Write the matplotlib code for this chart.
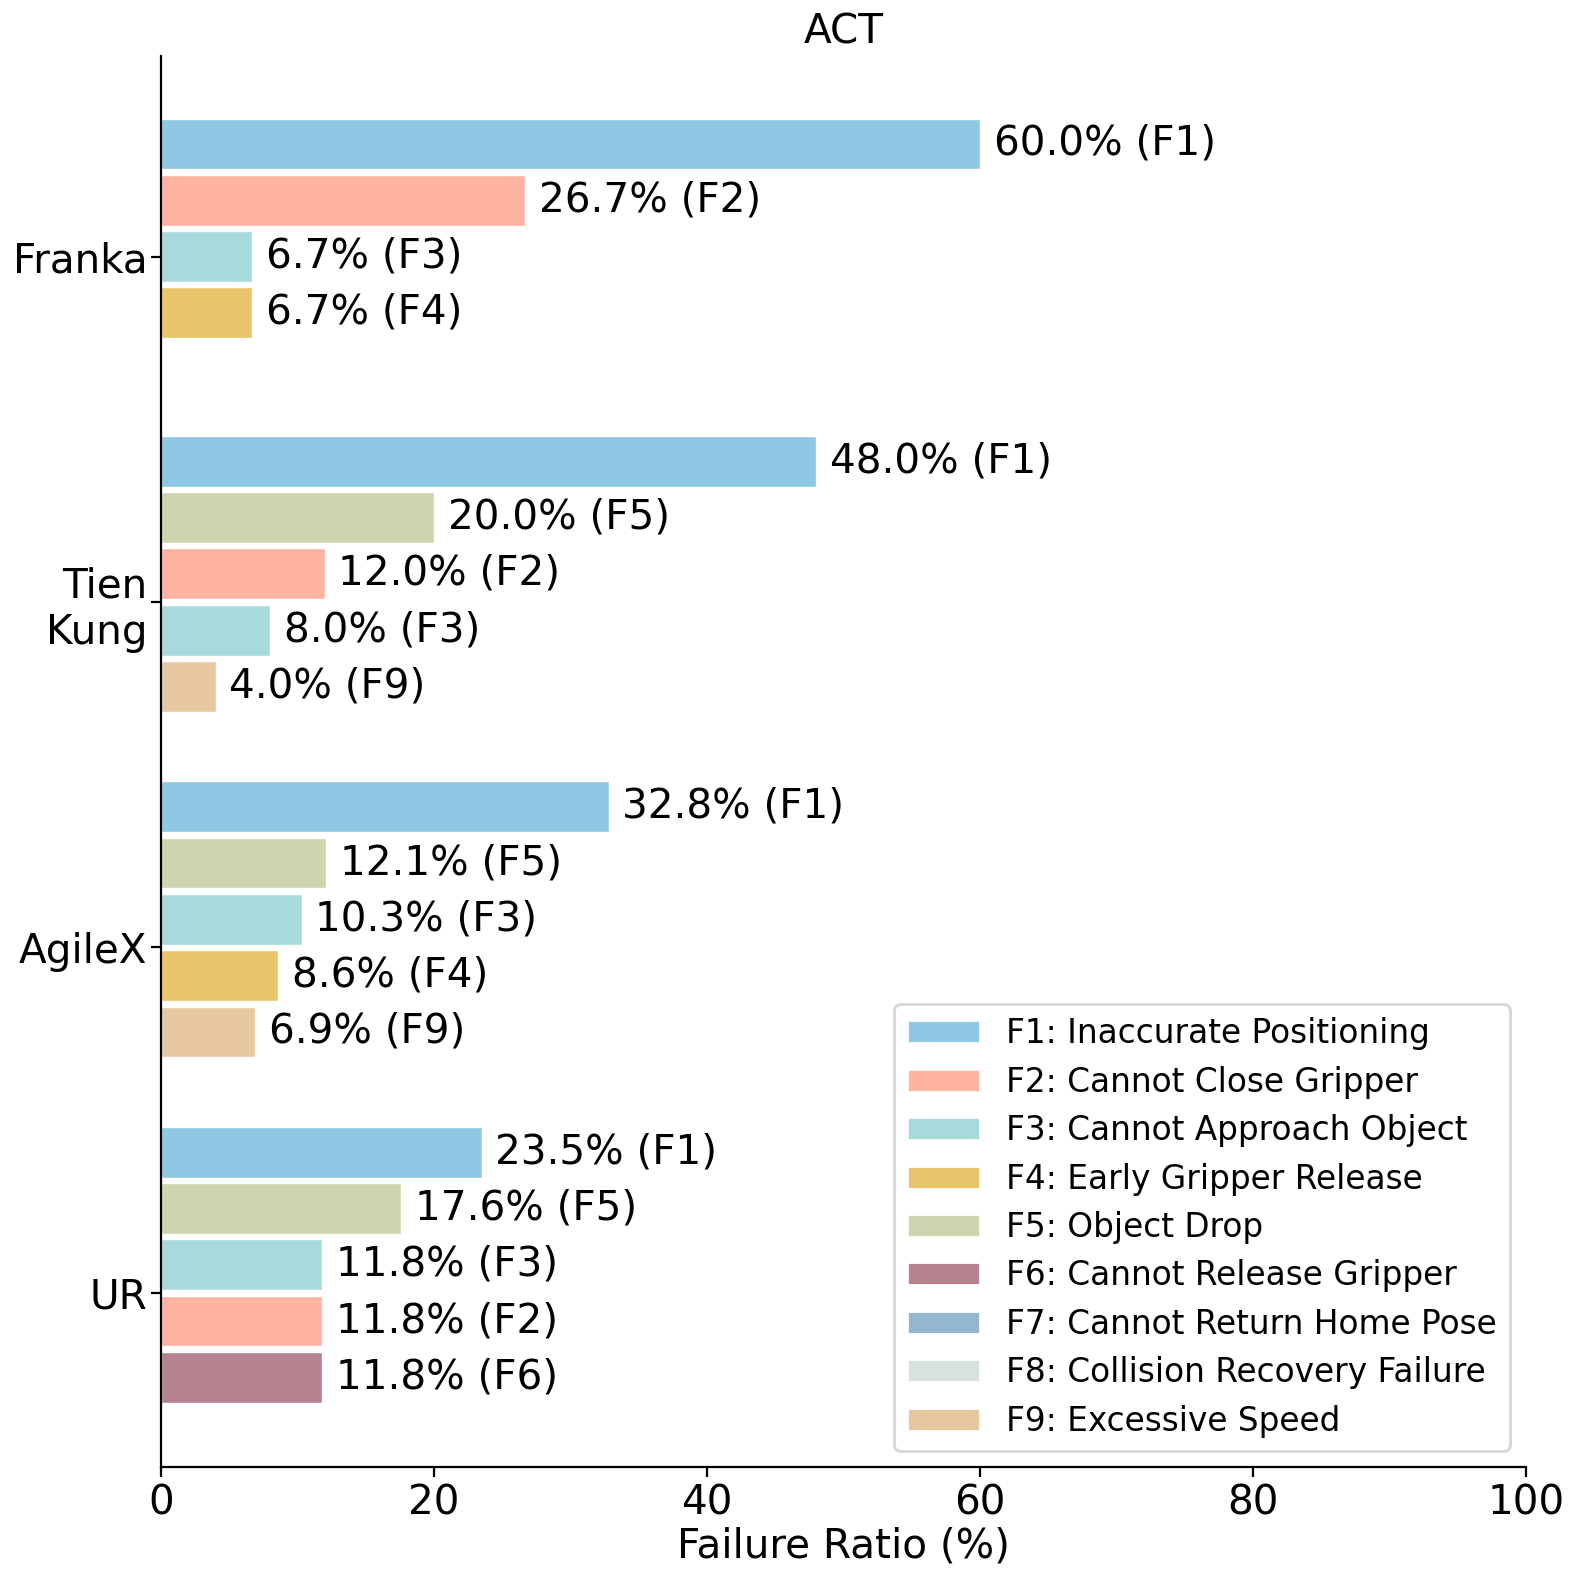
import matplotlib
matplotlib.use("Agg")
import matplotlib.pyplot as plt
from matplotlib.patches import Patch

# datos
robots = ['Franka', 'Tien\nKung', 'AgileX', 'UR']
modos = {
    'Franka': ['F1', 'F2', 'F3', 'F4'],
    'Tien\nKung': ['F1', 'F5', 'F2', 'F3', 'F9'],
    'AgileX': ['F1', 'F5', 'F3', 'F4', 'F9'],
    'UR': ['F1', 'F5', 'F3', 'F2', 'F6'],
}
ratios = {
    'Franka': [60.0, 26.7, 6.7, 6.7],
    'Tien\nKung': [48.0, 20.0, 12.0, 8.0, 4.0],
    'AgileX': [32.8, 12.1, 10.3, 8.6, 6.9],
    'UR': [23.5, 17.6, 11.8, 11.8, 11.8],
}
nombres = {
    'F1': 'Inaccurate Positioning',
    'F2': 'Cannot Close Gripper',
    'F3': 'Cannot Approach Object',
    'F4': 'Early Gripper Release',
    'F5': 'Object Drop',
    'F6': 'Cannot Release Gripper',
    'F7': 'Cannot Return Home Pose',
    'F8': 'Collision Recovery Failure',
    'F9': 'Excessive Speed',
}
colores = {
    'F1': '#8FC8E5',
    'F2': '#FFB4A2',
    'F3': '#A8DADC',
    'F4': '#E9C46A',
    'F5': '#CDD5AE',
    'F6': '#B5838D',
    'F7': '#94B6CF',
    'F8': '#D8E2DC',
    'F9': '#E8C8A0',
}

paso = 0.163
alto = 0.147
fs = 14.6

fig = plt.figure(figsize=(7.885, 7.895), dpi=200)
ax = fig.add_axes([0.1021, 0.0709, 0.8656, 0.8935])

for g, robot in enumerate(robots):
    n = len(modos[robot])
    for i, (m, v) in enumerate(zip(modos[robot], ratios[robot])):
        y = g + (i - n / 2) * paso
        ax.barh(y, v, height=alto, color=colores[m], edgecolor='white', linewidth=0.5)
        ax.text(v + 1.0, y, f'{v:.1f}% ({m})', va='center', ha='left', fontsize=fs)

ax.set_yticks(range(len(robots)))
ax.set_yticklabels(robots, fontsize=fs)
ax.tick_params(axis='y', pad=1.4)
ax.tick_params(axis='x', labelsize=fs, pad=2.5)
ax.set_xlim(0, 100)
ax.set_ylim(3.504, -0.58)
ax.set_xlabel('Failure Ratio (%)', fontsize=fs, labelpad=1)
ax.set_title('ACT', fontsize=fs, pad=4.5)
ax.spines['top'].set_visible(False)
ax.spines['right'].set_visible(False)

handles = [Patch(facecolor=colores[k], edgecolor='white', label=f'{k}: {nombres[k]}') for k in nombres]
ax.legend(handles=handles, loc='lower right', fontsize=11.8, handlelength=2.2,
          labelspacing=0.47)

fig.savefig('out.png', dpi=200)
